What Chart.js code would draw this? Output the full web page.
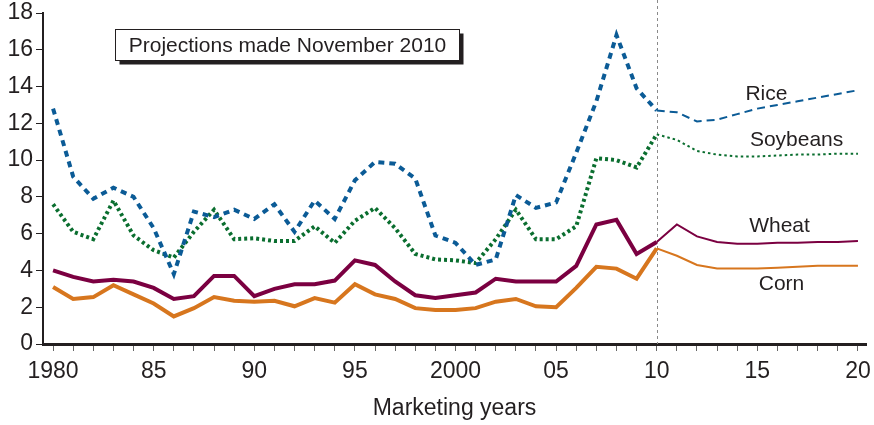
<!DOCTYPE html>
<html>
<head>
<meta charset="utf-8">
<script src="https://cdn.jsdelivr.net/npm/chart.js@4.4.1/dist/chart.umd.min.js"></script>
<style>
  html, body { margin: 0; padding: 0; background: #fff; }
  #wrap { width: 874px; height: 425px; position: relative; }
</style>
</head>
<body>
<div id="wrap"><canvas id="chart" width="874" height="425"></canvas></div>
<script>
// --- DATA ---
const histYears = [1980, 1981, 1982, 1983, 1984, 1985, 1986, 1987, 1988, 1989, 1990, 1991, 1992, 1993, 1994, 1995, 1996, 1997, 1998, 1999, 2000, 2001, 2002, 2003, 2004, 2005, 2006, 2007, 2008, 2009, 2010];
const projYears = [2010, 2011, 2012, 2013, 2014, 2015, 2016, 2017, 2018, 2019, 2020];

const riceHist = [12.8, 9.1, 7.9, 8.5, 8.0, 6.3, 3.8, 7.2, 6.9, 7.3, 6.8, 7.6, 6.1, 7.8, 6.8, 8.9, 9.9, 9.8, 9.0, 5.9, 5.5, 4.3, 4.6, 8.1, 7.4, 7.7, 10.4, 13.2, 16.8, 13.9, 12.7];
const riceProj = [12.7, 12.6, 12.1, 12.2, 12.5, 12.8, 13.0, 13.2, 13.4, 13.6, 13.8];

const soyHist = [7.6, 6.1, 5.7, 7.8, 5.9, 5.1, 4.7, 6.1, 7.3, 5.7, 5.75, 5.6, 5.6, 6.4, 5.5, 6.7, 7.4, 6.3, 4.9, 4.6, 4.55, 4.4, 5.7, 7.3, 5.7, 5.7, 6.4, 10.1, 10.0, 9.6, 11.4];
const soyProj = [11.4, 11.1, 10.5, 10.3, 10.2, 10.2, 10.25, 10.3, 10.3, 10.35, 10.35];

const wheatHist = [4.0, 3.65, 3.4, 3.5, 3.4, 3.05, 2.45, 2.6, 3.7, 3.7, 2.6, 3.0, 3.25, 3.25, 3.45, 4.55, 4.3, 3.4, 2.65, 2.5, 2.65, 2.8, 3.55, 3.4, 3.4, 3.4, 4.25, 6.5, 6.75, 4.9, 5.55];
const wheatProj = [5.55, 6.5, 5.85, 5.55, 5.45, 5.45, 5.5, 5.5, 5.55, 5.55, 5.6];

const cornHist = [3.1, 2.45, 2.55, 3.2, 2.7, 2.2, 1.5, 1.95, 2.55, 2.35, 2.3, 2.35, 2.05, 2.5, 2.25, 3.25, 2.7, 2.45, 1.95, 1.85, 1.85, 1.95, 2.3, 2.45, 2.05, 2.0, 3.05, 4.2, 4.1, 3.55, 5.2];
const cornProj = [5.2, 4.8, 4.3, 4.1, 4.1, 4.1, 4.15, 4.2, 4.25, 4.25, 4.25];

const labelYears = [1980, 1985, 1990, 1995, 2000, 2005, 2010, 2015, 2020];
const labelText = ['1980', '85', '90', '95', '2000', '05', '10', '15', '20'];
const projectionYear = 2010;

// --- STYLE ---
const FONT = "'Liberation Sans', Arial, Helvetica, sans-serif";
const TEXT = '#231f20';
const colors = { rice: '#0b5b96', soy: '#0a6e2f', wheat: '#7b0041', corn: '#d7761e' };

function pairs(xs, ys) {
    return xs.map((x, i) => ({ x: x, y: ys[i] }));
}

function series(data, color, width, dash) {
    return {
        data: data,
        borderColor: color,
        borderWidth: width,
        borderDash: dash,
        borderCapStyle: 'butt',
        borderJoinStyle: 'miter',
        pointRadius: 0,
        fill: false,
        tension: 0
    };
}

// annotations: series names + projection box
const seriesNames = [
    { text: 'Rice', x: 2015.45, y: 13.6 },
    { text: 'Soybeans', x: 2016.95, y: 11.1 },
    { text: 'Wheat', x: 2016.1, y: 6.4 },
    { text: 'Corn', x: 2016.2, y: 3.25 }
];

const annotations = {
    id: 'annotations',
    beforeDatasetsDraw(chart) {
        const { ctx, chartArea, scales } = chart;
        const x = Math.round(scales.x.getPixelForValue(projectionYear)) + 0.5;
        ctx.save();
        ctx.strokeStyle = '#8a8a8a';
        ctx.lineWidth = 1;
        ctx.setLineDash([3, 3]);
        ctx.beginPath();
        ctx.moveTo(x, 0);
        ctx.lineTo(x, chartArea.bottom);
        ctx.stroke();
        ctx.restore();
    },
    afterDraw(chart) {
        const { ctx, scales } = chart;
        ctx.save();
        ctx.fillStyle = TEXT;
        ctx.textAlign = 'center';
        ctx.textBaseline = 'middle';
        ctx.font = '21px ' + FONT;
        seriesNames.forEach(n => {
            ctx.fillText(n.text, scales.x.getPixelForValue(n.x), scales.y.getPixelForValue(n.y));
        });

        // projection box with drop shadow
        const bx = 115.5, by = 29.5, bw = 344, bh = 31;
        ctx.fillStyle = '#231f20';
        ctx.fillRect(bx + 4, by + 4, bw, bh);
        ctx.fillStyle = '#fff';
        ctx.fillRect(bx, by, bw, bh);
        ctx.strokeStyle = '#231f20';
        ctx.lineWidth = 1;
        ctx.strokeRect(bx, by, bw, bh);
        ctx.fillStyle = TEXT;
        ctx.fillText('Projections made November 2010', bx + bw / 2, by + bh / 2 + 1);
        ctx.restore();
    }
};

// --- CHART ---
new Chart(document.getElementById('chart'), {
    type: 'line',
    data: {
        datasets: [
            series(pairs(histYears, riceHist), colors.rice, 4, [6, 5]),
            series(pairs(projYears, riceProj), colors.rice, 2, [8, 5]),
            series(pairs(histYears, soyHist), colors.soy, 4, [3, 3]),
            series(pairs(projYears, soyProj), colors.soy, 2, [2.5, 3]),
            series(pairs(histYears, wheatHist), colors.wheat, 4, []),
            series(pairs(projYears, wheatProj), colors.wheat, 2, []),
            series(pairs(histYears, cornHist), colors.corn, 4, []),
            series(pairs(projYears, cornProj), colors.corn, 2, [])
        ]
    },
    options: {
        responsive: false,
        animation: false,
        events: [],
        layout: { padding: { top: 13, right: 8, left: 0, bottom: 0 } },
        plugins: { legend: { display: false }, tooltip: { enabled: false } },
        scales: {
            x: {
                type: 'linear',
                min: 1979.5,
                max: 2020.4,
                afterBuildTicks: axis => {
                    axis.ticks = histYears.concat(projYears.slice(1)).map(v => ({ value: v }));
                },
                afterFit: axis => {
                    axis.height = 81;
                    axis.paddingLeft = 0;
                    axis.paddingRight = 0;
                },
                ticks: {
                    autoSkip: false,
                    maxRotation: 0,
                    padding: 7,
                    color: TEXT,
                    font: { family: FONT, size: 23 },
                    callback: v => {
                        const i = labelYears.indexOf(v);
                        return i >= 0 ? labelText[i] : '';
                    }
                },
                grid: { drawOnChartArea: false, tickLength: 7, tickColor: '#666', tickWidth: 1 },
                border: { color: '#231f20', width: 3 },
                title: {
                    display: true,
                    text: 'Marketing years',
                    color: TEXT,
                    font: { family: FONT, size: 23 },
                    padding: { top: 0, bottom: 3 }
                }
            },
            y: {
                min: 0,
                max: 18,
                afterFit: axis => {
                    axis.width = 43;
                    axis.paddingTop = 0;
                    axis.paddingBottom = 0;
                },
                ticks: {
                    stepSize: 2,
                    padding: 3,
                    color: TEXT,
                    font: { family: FONT, size: 23 }
                },
                grid: { drawOnChartArea: false, tickLength: 7, tickColor: '#231f20', tickWidth: 1 },
                border: { color: '#231f20', width: 2 }
            }
        }
    },
    plugins: [annotations]
});
</script>
</body>
</html>
